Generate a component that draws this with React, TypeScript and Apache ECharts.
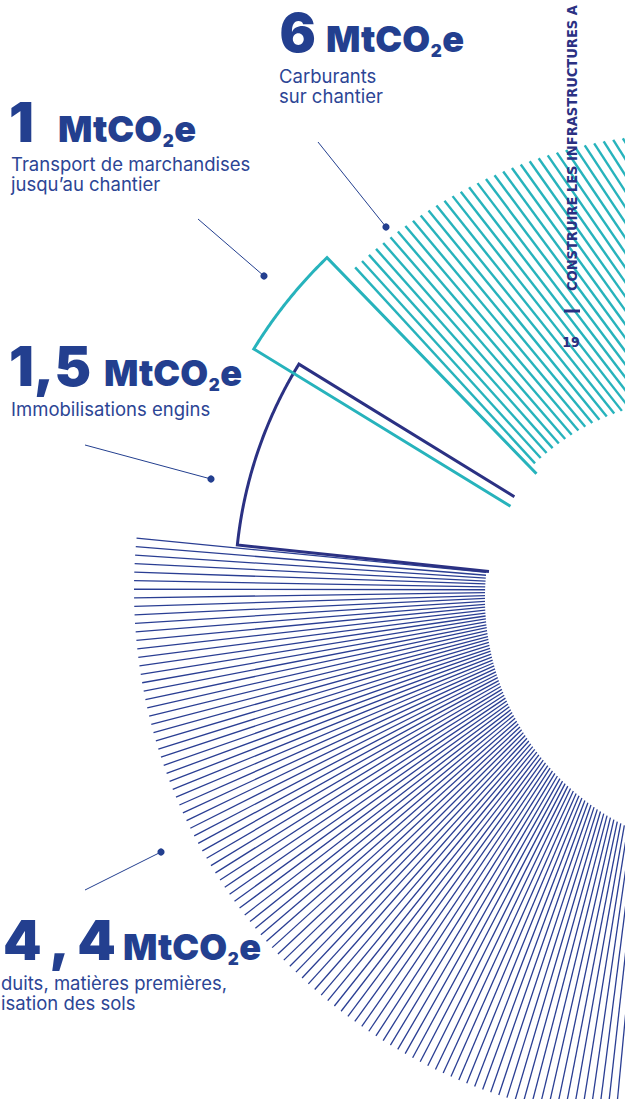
import React, { useEffect, useRef } from 'react';
import * as echarts from 'echarts';

// ---------------- data ----------------
const categories = [
  'Carburants sur chantier',
  'Transport de marchandises jusqu’au chantier',
  'Immobilisations engins',
  'Produits, matières premières, utilisation des sols',
];
const values = [6, 1, 1.5, 4.4];
const valueLabels = ['6', '1', '1,5', '4\u2009,\u20094'];
const unitParts = ['MtCO', '2', 'e'];
const descriptions = [
  ['Carburants', 'sur chantier'],
  ['Transport de marchandises', 'jusqu’au chantier'],
  ['Immobilisations engins'],
  ['duits, matières premières,', 'isation des sols'],
];
const runningHead = 'CONSTRUIRE LES INFRASTRUCTURES A';
const pageNumber = '19';

// ---------------- styles / layout ----------------
const TEAL = '#27b3bc';
const NAVY = '#233f8f';
const INDIGO = '#2b3183';
const HATCH_NAVY = '#2a3e93';
const TEXT = '#2c4595';

const POLARS = [
  { center: [666, 590], radius: 600 },
  { center: [652, 593], radius: 600 },
  { center: [1445, 1455], radius: 2000 },
];

// one layout entry per category (same order)
// hatch: rays from the polar centre, cut by an inner and an outer circle
// (circle centres given in the polar's own [radius, angle] coordinates)
const SECTOR_LAYOUT: any[] = [
  { polar: 2, kind: 'hatch', color: TEAL, lineWidth: 2.4, from: 132.54, to: 121.5, step: 0.33,
    inner: { c: [1114.96, 132.274], r: 231 }, outer: { c: [1114.96, 132.274], r: 497 }, z: 2 },
  { polar: 1, kind: 'outline', color: TEAL, lineWidth: 3, a1: 134.1, a2: 148.5, r0: 166, r: 467, z: 5 },
  { polar: 0, kind: 'outline', color: INDIGO, lineWidth: 3, a1: 148.4, a2: 174.0, r0: 178, r: 431, z: 4 },
  { polar: 0, kind: 'hatch', color: HATCH_NAVY, lineWidth: 1.3, from: 174.4, to: 268, step: 0.92,
    inner: { c: [74.4, 353.83], r: 255 }, outer: { c: [0, 0], r: 532 }, z: 2 },
];

const LABEL_LAYOUT = [
  { numX: 279.5, unitX: 326, baseline: 52.5, numSize: 54, descX: 279, descBaseline: 83, leader: [318, 142, 386, 227] },
  { numX: 9, unitX: 58, baseline: 142, numSize: 55, descX: 11, descBaseline: 171, leader: [198, 219, 264, 276] },
  { numX: 9, unitX: 104, baseline: 386, numSize: 55, descX: 11, descBaseline: 416, leader: [85, 445, 211, 479] },
  { numX: 3, unitX: 123, baseline: 960, numSize: 55, descX: 1, descBaseline: 990, leader: [85, 890, 161, 852] },
];

const UNIT_SIZE = 36;
const SUB_SIZE = 17;
const DESC_SIZE = 18.5;
const DESC_LH = 20;
const FONT = 'Inter';
const K_INTER = 0.364;
const COND = 'DejaVu Sans Condensed';
const K_DEJAVU = 0.346;

function measure(text: string, font: string) {
  const c = document.createElement('canvas').getContext('2d')!;
  c.font = font;
  return c.measureText(text).width;
}

function txt(x: number, baseline: number, text: string, size: number, weight: any, family: string, k: number, color: string, align = 'left') {
  return {
    type: 'text', x, y: baseline - k * size, z: 20, silent: true,
    style: { text, fill: color, fontSize: size, lineHeight: size, fontWeight: weight, fontFamily: family, align, verticalAlign: 'middle' },
  };
}

// far intersection of ray (angle a, from polar centre) with circle {c:[r,angle], r}
function rayExit(aDeg: number, circ: any) {
  const ar = (aDeg * Math.PI) / 180;
  const cr = (circ.c[1] * Math.PI) / 180;
  const cx = circ.c[0] * Math.cos(cr), cy = circ.c[0] * Math.sin(cr);
  const b = Math.cos(ar) * cx + Math.sin(ar) * cy;
  const d = b * b - (cx * cx + cy * cy) + circ.r * circ.r;
  if (d < 0) return null;
  return b + Math.sqrt(d);
}

function renderer(cfg: any) {
  return (params: any, api: any) => {
    if (cfg.kind === 'outline') {
      const pts: number[][] = [];
      const n = Math.ceil((cfg.a2 - cfg.a1) / 0.25);
      pts.push(api.coord([cfg.r0, cfg.a1]));
      for (let i = 0; i <= n; i++) pts.push(api.coord([cfg.r, cfg.a1 + ((cfg.a2 - cfg.a1) * i) / n]));
      pts.push(api.coord([cfg.r0, cfg.a2]));
      return {
        type: 'polyline', shape: { points: pts },
        style: { fill: 'none', stroke: cfg.color, lineWidth: cfg.lineWidth, lineJoin: 'miter', miterLimit: 20 },
      };
    }
    const children: any[] = [];
    const dir = cfg.to > cfg.from ? 1 : -1;
    const count = Math.floor(Math.abs(cfg.to - cfg.from) / cfg.step + 1e-6);
    for (let i = 0; i <= count; i++) {
      const a = cfg.from + dir * i * cfg.step;
      const rout = rayExit(a, cfg.outer);
      const rin = rayExit(a, cfg.inner);
      if (rout == null || rin == null || rin >= rout) continue;
      const p0 = api.coord([rin, a]);
      const p1 = api.coord([rout, a]);
      children.push({
        type: 'line', shape: { x1: p0[0], y1: p0[1], x2: p1[0], y2: p1[1] },
        style: { stroke: cfg.color, lineWidth: cfg.lineWidth, lineCap: 'butt' },
      });
    }
    return { type: 'group', children };
  };
}

function buildOption() {
  const series = values.map((v, i) => {
    const cfg = SECTOR_LAYOUT[i];
    return {
      type: 'custom', name: categories[i], coordinateSystem: 'polar', polarIndex: cfg.polar,
      z: cfg.z, silent: true, clip: false, data: [[v, 0]], renderItem: renderer(cfg),
    };
  });

  const wM = measure(unitParts[0], `900 ${UNIT_SIZE}px ${FONT}`);
  const wS = measure(unitParts[1], `900 ${SUB_SIZE}px ${FONT}`);

  const elements: any[] = [];
  LABEL_LAYOUT.forEach((L, i) => {
    elements.push(txt(L.numX, L.baseline, valueLabels[i], L.numSize, 900, FONT, K_INTER, NAVY));
    elements.push(txt(L.unitX, L.baseline, unitParts[0], UNIT_SIZE, 900, FONT, K_INTER, NAVY));
    elements.push(txt(L.unitX + wM + 0.5, L.baseline + 5, unitParts[1], SUB_SIZE, 900, FONT, K_INTER, NAVY));
    elements.push(txt(L.unitX + wM + wS + 1, L.baseline, unitParts[2], UNIT_SIZE, 900, FONT, K_INTER, NAVY));
    descriptions[i].forEach((line, j) => {
      elements.push(txt(L.descX, L.descBaseline + j * DESC_LH, line, DESC_SIZE, 400, FONT, K_INTER, TEXT));
    });
    const [x1, y1, x2, y2] = L.leader;
    elements.push({ type: 'line', z: 20, silent: true, shape: { x1, y1, x2, y2 }, style: { stroke: NAVY, lineWidth: 1 } });
    elements.push({ type: 'circle', z: 20, silent: true, shape: { cx: x2, cy: y2, r: 3.6 }, style: { fill: NAVY } });
  });

  elements.push({
    type: 'text', x: 571.5, y: 291, rotation: Math.PI / 2, z: 20, silent: true,
    style: { text: runningHead, fill: INDIGO, fontSize: 14.5, lineHeight: 14.5, fontWeight: 'bold', fontFamily: COND, align: 'left', verticalAlign: 'middle' },
  });
  elements.push({ type: 'rect', z: 20, silent: true, shape: { x: 564, y: 309.5, width: 16, height: 3 }, style: { fill: INDIGO } });
  elements.push(txt(571, 347, pageNumber, 14, 'bold', COND, K_DEJAVU, INDIGO, 'center'));

  return {
    animation: false,
    backgroundColor: '#ffffff',
    polar: POLARS.map((p) => ({ center: p.center, radius: p.radius })),
    angleAxis: POLARS.map((p, i) => ({ polarIndex: i, type: 'value', min: 0, max: 360, startAngle: 0, clockwise: false, show: false })),
    radiusAxis: POLARS.map((p, i) => ({ polarIndex: i, type: 'value', min: 0, max: p.radius, show: false })),
    series,
    graphic: { elements },
  };
}

export default function App() {
  const ref = useRef<HTMLDivElement>(null);
  useEffect(() => {
    document.body.style.margin = '0';
    const chart = echarts.init(ref.current!, null, { renderer: 'svg' });
    chart.setOption(buildOption() as any);
    return () => chart.dispose();
  }, []);
  return <div ref={ref} style={{ width: 625, height: 1099, overflow: 'hidden' }} />;
}
